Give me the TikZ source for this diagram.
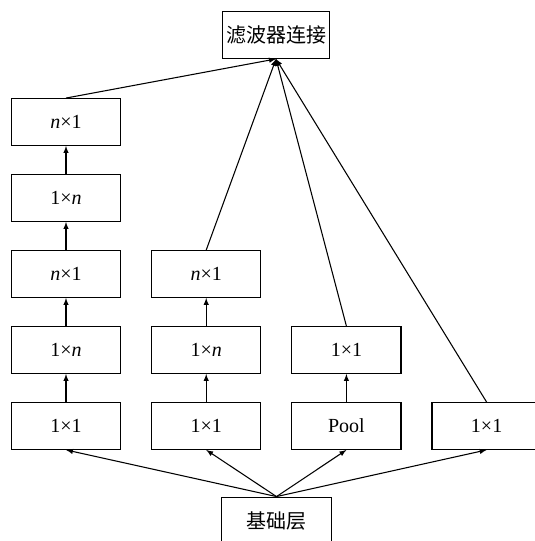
\documentclass[tikz,border=0pt]{standalone}
\usepackage{fontspec}
\setmainfont{Liberation Serif}
\newfontfamily\cjk{Noto Sans CJK SC}
\usepackage{tikz}
\usetikzlibrary{arrows,positioning,calc}

\begin{document}
\begin{tikzpicture}[x=0.75pt,y=-0.75pt]
\tikzstyle{fleche}=[->,>=latex,line width=0.8pt]
\tikzstyle{boite}=[draw,line width=0.9pt,minimum width=82pt,minimum height=35pt,inner sep=0pt,font=\fontsize{15pt}{18pt}\selectfont]
\def\DistanceInterNiveaux{76}
\def\DistanceInterColonnes{140.2}
\def\NiveauA{(122)}
\def\NiveauB{(122+1*\DistanceInterNiveaux)}
\def\NiveauC{(122+2*\DistanceInterNiveaux)}
\def\NiveauD{(122+3*\DistanceInterNiveaux)}
\def\NiveauE{(122+4*\DistanceInterNiveaux)}
\def\ColonneA{(66)}
\def\ColonneB{(66+1*\DistanceInterColonnes)}
\def\ColonneC{(66+2*\DistanceInterColonnes)}
\def\ColonneD{(66+3*\DistanceInterColonnes)}
\useasboundingbox (0,0) rectangle (534,541);
% concat and base layer
\node[boite,minimum width=80pt] (F) at (276,35) {\cjk 滤波器连接};
\node[boite] (B) at (276.5,520.5) {\cjk 基础层};
% first column
\node[boite] (Aa) at ({\ColonneA},{\NiveauE}) {1×1};
\node[boite] (Ab) at ({\ColonneA},{\NiveauD}) {1×\textit{n}};
\node[boite] (Ac) at ({\ColonneA},{\NiveauC}) {\textit{n}×1};
\node[boite] (Ad) at ({\ColonneA},{\NiveauB}) {1×\textit{n}};
\node[boite] (Ae) at ({\ColonneA},{\NiveauA}) {\textit{n}×1};
% second column
\node[boite] (Ba) at ({\ColonneB},{\NiveauE}) {1×1};
\node[boite] (Bb) at ({\ColonneB},{\NiveauD}) {1×\textit{n}};
\node[boite] (Bc) at ({\ColonneB},{\NiveauC}) {\textit{n}×1};
% third column
\node[boite] (Ca) at ({\ColonneC},{\NiveauE}) {Pool};
\node[boite] (Cb) at ({\ColonneC},{\NiveauD}) {1×1};
% fourth column
\node[boite] (Da) at ({\ColonneD},{\NiveauE}) {1×1};
% from the base layer
\draw[fleche] (B.north)--(Aa.south);
\draw[fleche] (B.north)--(Ba.south);
\draw[fleche] (B.north)--(Ca.south);
\draw[fleche] (B.north)--(Da.south);
% inside the columns
\draw[fleche] (Aa)--(Ab);
\draw[fleche] (Ab)--(Ac);
\draw[fleche] (Ac)--(Ad);
\draw[fleche] (Ad)--(Ae);
\draw[fleche] (Ba)--(Bb);
\draw[fleche] (Bb)--(Bc);
\draw[fleche] (Ca)--(Cb);
% to the concat
\draw[fleche] (Ae.north)--(F.south);
\draw[fleche] (Bc.north)--(F.south);
\draw[fleche] (Cb.north)--(F.south);
\draw[fleche] (Da.north)--(F.south);
\end{tikzpicture}
\end{document}
